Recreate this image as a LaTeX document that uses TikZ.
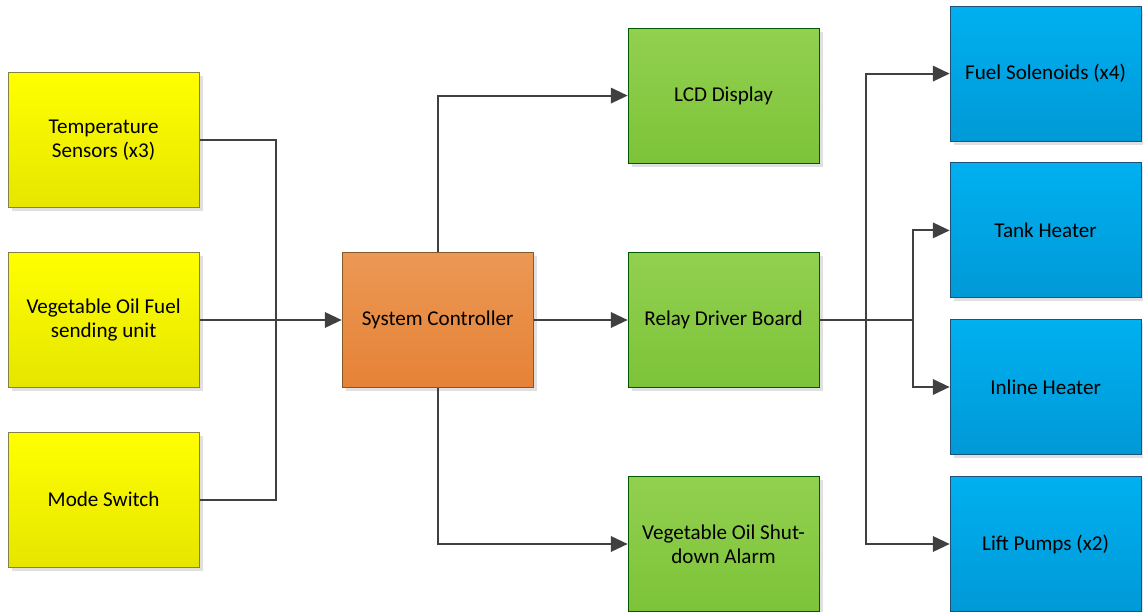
\documentclass[tikz,border=0pt]{standalone}
\usepackage{fontspec}
\setmainfont{Carlito}
\usetikzlibrary{arrows.meta,shadows}

\definecolor{wiregray}{HTML}{404040}

\begin{document}
\begin{tikzpicture}[
    font=\fontsize{15}{17}\selectfont,
    block/.style={draw, line width=0.6pt, minimum width=4.775cm, minimum height=3.375cm, align=center,
        drop shadow={shadow xshift=2.5pt, shadow yshift=-2.5pt, fill=black!12, opacity=1}},
    sensor/.style={block, draw=yellow!45!black, top color=yellow, bottom color=yellow!90!black},
    ctrlbox/.style={block, draw=brown!70!black, top color={rgb,255:red,235;green,152;blue,84}, bottom color={rgb,255:red,230;green,130;blue,55}},
    outbox/.style={block, draw=green!35!black, top color={rgb,255:red,146;green,208;blue,80}, bottom color={rgb,255:red,125;green,195;blue,56}},
    loadbox/.style={block, draw={rgb,255:red,30;green,80;blue,120}, top color={rgb,255:red,0;green,176;blue,240}, bottom color={rgb,255:red,0;green,153;blue,214}},
    wire/.style={draw=wiregray, line width=1.5pt},
    feed/.style={wire, -{Triangle[length=12pt, width=11pt]}}
]
    \useasboundingbox (0,0) rectangle (28.575,15.3);

    % Entrees
    \node[sensor] (temp) at (2.59, 11.79) {Temperature\\Sensors (x3)};
    \node[sensor] (fuel) at (2.59, 7.3) {Vegetable Oil Fuel\\sending unit};
    \node[sensor] (mode) at (2.59, 2.81) {Mode Switch};

    % Controleur
    \node[ctrlbox] (ctrl) at (10.94, 7.3) {System Controller};

    % Sorties
    \node[outbox] (lcd) at (18.09, 12.91) {LCD Display};
    \node[outbox] (relay) at (18.09, 7.3) {Relay Driver Board};
    \node[outbox] (alarm) at (18.09, 1.7) {Vegetable Oil Shut-\\down Alarm};

    % Charges
    \node[loadbox] (sol) at (26.14, 13.46) {Fuel Solenoids (x4)};
    \node[loadbox] (tank) at (26.14, 9.54) {Tank Heater};
    \node[loadbox] (inline) at (26.14, 5.625) {Inline Heater};
    \node[loadbox] (lift) at (26.14, 1.7) {Lift Pumps (x2)};

    % Points de jonction
    \coordinate (busL) at (6.9, 7.3);
    \coordinate (busR) at (21.65, 7.3);
    \coordinate (busH) at (22.83, 7.3);

    % Liaisons entrees
    \draw[wire] (temp.east) -| (busL);
    \draw[wire] (mode.east) -| (busL);
    \draw[feed] (fuel) -- (ctrl);

    % Liaisons controleur
    \draw[feed] (ctrl.north) |- (lcd.west);
    \draw[feed] (ctrl) -- (relay);
    \draw[feed] (ctrl.south) |- (alarm.west);

    % Liaisons relais
    \draw[wire] (relay.east) -- (busH);
    \draw[feed] (busR) |- (sol.west);
    \draw[feed] (busR) |- (lift.west);
    \draw[feed] (busH) |- (tank.west);
    \draw[feed] (busH) |- (inline.west);

\end{tikzpicture}
\end{document}
